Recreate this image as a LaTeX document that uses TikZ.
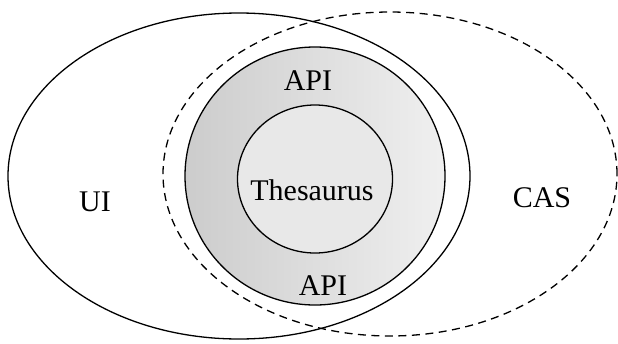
\documentclass[tikz,border=0pt]{standalone}
\usepackage{fontspec}
\setmainfont{Liberation Serif}
\usetikzlibrary{shapes.geometric}
\begin{document}
\begin{tikzpicture}[x=1pt,y=-1pt,
  ring/.style={ellipse, draw, line width=1.3pt, inner sep=0pt},
  dashring/.style={ring, dash pattern=on 8pt off 5.5pt},
  lbl/.style={font=\fontsize{30}{33}\selectfont, inner sep=0pt, anchor=base}]
\useasboundingbox (0,0) rectangle (618,343);
\node[ring, minimum width=260pt, minimum height=258pt,
  left color=gray!40, right color=gray!12] (api) at (315,176) {};
\node[ring, fill=gray!18, minimum width=155pt, minimum height=148pt] (thes) at (315,179) {};
\node[ring, minimum width=462pt, minimum height=326pt] (ui) at (239,176) {};
\node[dashring, minimum width=454pt, minimum height=324pt] (cas) at (390,174) {};
\node[lbl] (apitop) at (308,90) {API};
\node[lbl] (apibot) at (323,295) {API};
\node[lbl] (thestext) at (312,200) {Thesaurus};
\node[lbl] (uitext) at (95,211) {UI};
\node[lbl] (castext) at (542,207) {CAS};
\end{tikzpicture}
\end{document}
